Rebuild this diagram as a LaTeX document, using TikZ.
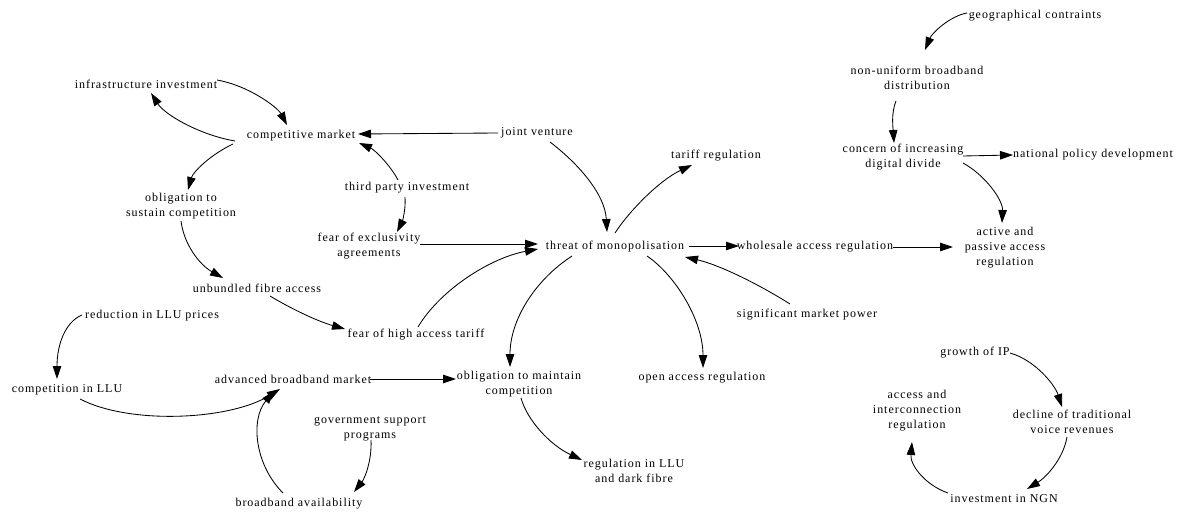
\documentclass[tikz,border=0pt]{standalone}
\usepackage{fontspec}
\setmainfont{Liberation Serif}[LetterSpace=8]
\usetikzlibrary{arrows.meta}
\begin{document}
\begin{tikzpicture}[x=1pt,y=-1pt,
  lbl/.style={inner sep=0pt, align=center, font=\fontsize{12}{15}\selectfont},
  arr/.style={draw=black, line width=0.85pt, -{Triangle[length=13pt,width=8.5pt]}}]
\useasboundingbox[fill=white] (0,0) rectangle (1177,513);
% nodes
\node[lbl] (geo) at (1035,16) {geographical contraints};
\node[lbl] (nonuni) at (917,78) {non-uniform broadband\\distribution};
\node[lbl] (concern) at (903,157) {concern of increasing\\digital divide};
\node[lbl] (natpol) at (1093,155) {national policy development};
\node[lbl] (active) at (1005,248) {active and\\passive access\\regulation};
\node[lbl] (tariff) at (716,156) {tariff regulation};
\node[lbl] (joint) at (537,133) {joint venture};
\node[lbl] (compmkt) at (301,136) {competitive market};
\node[lbl] (infra) at (146,84) {infrastructure investment};
\node[lbl] (third) at (407,188) {third party investment};
\node[lbl] (oblsust) at (181,206) {obligation to\\sustain competition};
\node[lbl] (fearex) at (369,246) {fear of exclusivity\\agreements};
\node[lbl] (threat) at (615,247) {threat of monopolisation};
\node[lbl] (wholesale) at (815,247) {wholesale access regulation};
\node[lbl] (unbundled) at (257,288) {unbundled fibre access};
\node[lbl] (reduction) at (152,316) {reduction in LLU prices};
\node[lbl] (fearhigh) at (416,335) {fear of high access tariff};
\node[lbl] (smp) at (807,315) {significant market power};
\node[lbl] (complu) at (67,390) {competition in LLU};
\node[lbl] (advbb) at (293,379) {advanced broadband market};
\node[lbl] (oblmaint) at (519,384) {obligation to maintain\\competition};
\node[lbl] (openacc) at (702,378) {open access regulation};
\node[lbl] (govt) at (370,429) {government support\\programs};
\node[lbl] (regllu) at (634,471) {regulation in LLU\\and dark fibre};
\node[lbl] (bbavail) at (299,504) {broadband availability};
\node[lbl] (growth) at (975,353) {growth of IP};
\node[lbl] (accint) at (917,411) {access and\\interconnection\\regulation};
\node[lbl] (decline) at (1072,422) {decline of traditional\\voice revenues};
\node[lbl] (ngn) at (1004,499) {investment in NGN};
% connectors
\draw[arr] ([shift={(-68,-3)}]geo.center) .. controls +(-17,3) and +(7,-17) .. ([shift={(8,-28)}]nonuni.center);
\draw[arr] ([shift={(-21,23)}]nonuni.center) .. controls +(-5,12) and +(-1,-15) .. ([shift={(-9,-14)}]concern.center);
\draw[arr] ([shift={(60,-1)}]concern.center) -- ([shift={(-80,0)}]natpol.center);
\draw[arr] ([shift={(60,6)}]concern.center) .. controls +(22,12) and +(1,-23) .. ([shift={(-3,-25)}]active.center);
\draw[arr] ([shift={(78,0)}]wholesale.center) -- ([shift={(-52,-1)}]active.center);
\draw[arr] ([shift={(74,-1)}]threat.center) -- ([shift={(-76,-1)}]wholesale.center);
\draw[arr] ([shift={(0,-14)}]threat.center) .. controls +(15,-23) and +(-32,15) .. ([shift={(-24,9)}]tariff.center);
\draw[arr] ([shift={(13,9)}]joint.center) .. controls +(30,23) and +(-2,-37) .. ([shift={(-8,-15)}]threat.center);
\draw[arr] ([shift={(-39,0)}]joint.center) -- ([shift={(57,-2)}]compmkt.center);
\draw[arr] ([shift={(-66,5)}]compmkt.center) .. controls +(-35,-6) and +(14,22) .. ([shift={(5,9)}]infra.center);
\draw[arr] ([shift={(71,-4)}]infra.center) .. controls +(33,6) and +(-9,-17) .. ([shift={(-14,-11)}]compmkt.center);
\draw[arr] ([shift={(-68,8)}]compmkt.center) .. controls +(-23,11) and +(5,-18) .. ([shift={(7,-16)}]oblsust.center);
\draw[arr] ([shift={(-9,-8)}]third.center) .. controls +(-8,-15) and +(16,7) .. ([shift={(58,7)}]compmkt.center);
\draw[arr] ([shift={(-2,9)}]third.center) .. controls +(1,13) and +(5,-10) .. ([shift={(28,-14)}]fearex.center);
\draw[arr] ([shift={(51,-2)}]fearex.center) -- ([shift={(-77,-3)}]threat.center);
\draw[arr] ([shift={(2,-8)}]fearhigh.center) .. controls +(22,-37) and +(-48,9) .. ([shift={(-77,2)}]threat.center);
\draw[arr] ([shift={(0,15)}]oblsust.center) .. controls +(3,24) and +(-23,-13) .. ([shift={(-34,-10)}]unbundled.center);
\draw[arr] ([shift={(13,8)}]unbundled.center) .. controls +(25,15) and +(-25,-7) .. ([shift={(-71,-6)}]fearhigh.center);
\draw[arr] ([shift={(-43,9)}]threat.center) .. controls +(-37,24) and +(0,-47) .. ([shift={(-9,-17)}]oblmaint.center);
\draw[arr] ([shift={(32,9)}]threat.center) .. controls +(28,19) and +(0,-48) .. ([shift={(1,-10)}]openacc.center);
\draw[arr] ([shift={(-17,-11)}]smp.center) .. controls +(-30,-19) and +(35,8) .. ([shift={(70,10)}]threat.center);
\draw[arr] ([shift={(-70,-1)}]reduction.center) .. controls +(-17,7) and +(0,-34) .. ([shift={(-10,-11)}]complu.center);
\draw[arr] ([shift={(13,9)}]complu.center) .. controls +(50,26) and +(-50,31) .. ([shift={(-13,10)}]advbb.center);
\draw[arr] ([shift={(77,0)}]advbb.center) -- ([shift={(-63,-5)}]oblmaint.center);
\draw[arr] ([shift={(2,14)}]oblmaint.center) .. controls +(6,22) and +(-32,-15) .. ([shift={(-52,-11)}]regllu.center);
\draw[arr] ([shift={(-16,-11)}]bbavail.center) .. controls +(-28,-28) and +(-24,29) .. ([shift={(-19,12)}]advbb.center);
\draw[arr] ([shift={(1,11)}]govt.center) .. controls +(1,20) and +(11,-14) .. ([shift={(55,-12)}]bbavail.center);
\draw[arr] ([shift={(35,0)}]growth.center) .. controls +(25,7) and +(-7,-22) .. ([shift={(-10,-15)}]decline.center);
\draw[arr] ([shift={(-5,15)}]decline.center) .. controls +(-4,23) and +(18,-11) .. ([shift={(23,-10)}]ngn.center);
\draw[arr] ([shift={(-56,-6)}]ngn.center) .. controls +(-23,-8) and +(-2,23) .. ([shift={(-5,31)}]accint.center);
\end{tikzpicture}
\end{document}
